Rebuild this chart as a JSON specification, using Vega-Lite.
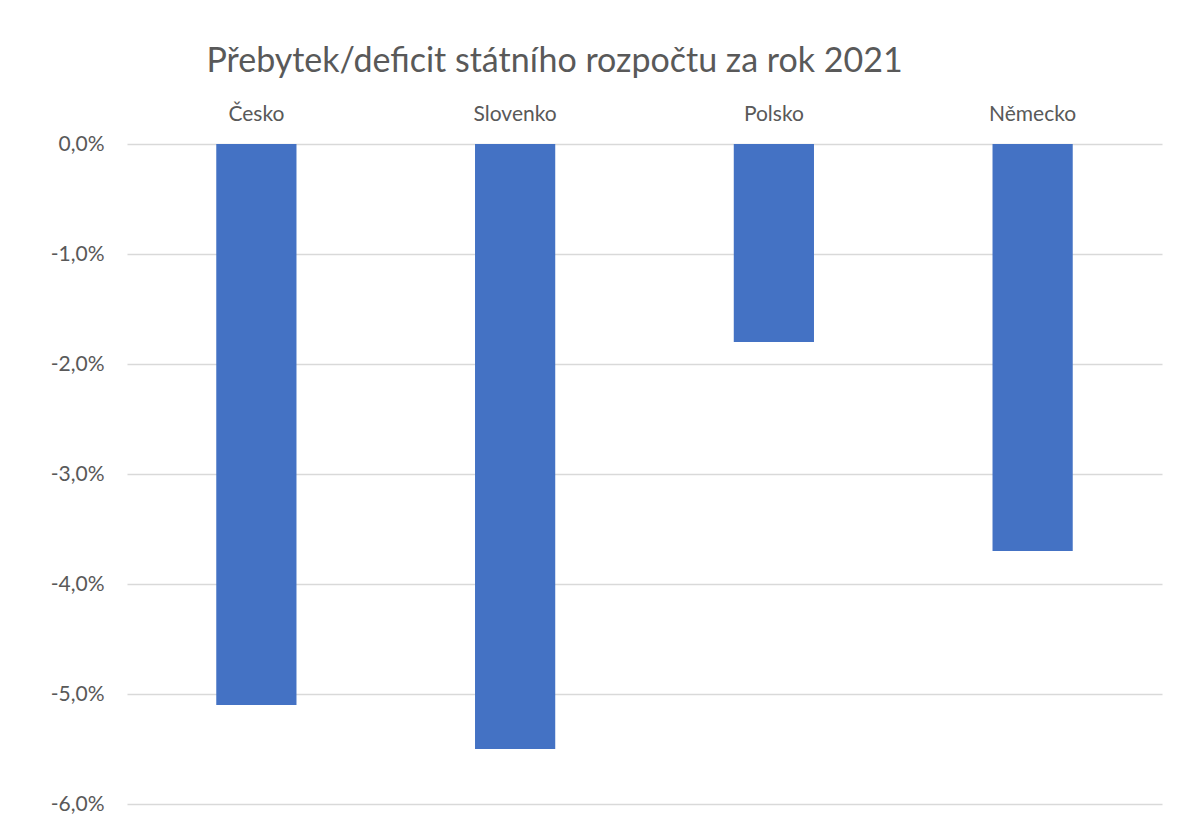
{
  "$schema": "https://vega.github.io/schema/vega-lite/v6.json",
  "width": 1035,
  "height": 660,
  "autosize": {"type": "none"},
  "padding": {"left": 127, "top": 144, "right": 22, "bottom": 10},
  "background": "white",
  "title": {
    "text": "Přebytek/deficit státního rozpočtu za rok 2021",
    "anchor": "middle",
    "dx": -90,
    "offset": 24,
    "font": "Lato",
    "fontSize": 34,
    "fontWeight": "normal",
    "color": "#595959"
  },
  "data": {
    "values": [
      {"zeme": "Česko", "saldo": -5.1},
      {"zeme": "Slovenko", "saldo": -5.5},
      {"zeme": "Polsko", "saldo": -1.8},
      {"zeme": "Německo", "saldo": -3.7}
    ]
  },
  "mark": {"type": "bar", "color": "#4472C4"},
  "encoding": {
    "x": {
      "field": "zeme",
      "type": "nominal",
      "sort": null,
      "scale": {"paddingInner": 0.69, "paddingOuter": 0.345},
      "axis": {
        "orient": "top",
        "title": null,
        "labelAngle": 0,
        "ticks": false,
        "domain": false,
        "labelPadding": 20,
        "labelFont": "Lato",
        "labelFontSize": 21,
        "labelColor": "#595959"
      }
    },
    "y": {
      "field": "saldo",
      "type": "quantitative",
      "scale": {"domain": [-6, 0], "nice": false},
      "axis": {
        "title": null,
        "values": [0, -1, -2, -3, -4, -5, -6],
        "labelExpr": "replace(replace(format(datum.value, '.1f'), '.', ','), '−', '-') + '%'",
        "ticks": false,
        "domain": false,
        "labelPadding": 23,
        "labelFont": "Lato",
        "labelFontSize": 21,
        "labelColor": "#595959",
        "gridColor": "#d9d9d9",
        "gridWidth": 1.5
      }
    }
  },
  "config": {"view": {"stroke": null}}
}
